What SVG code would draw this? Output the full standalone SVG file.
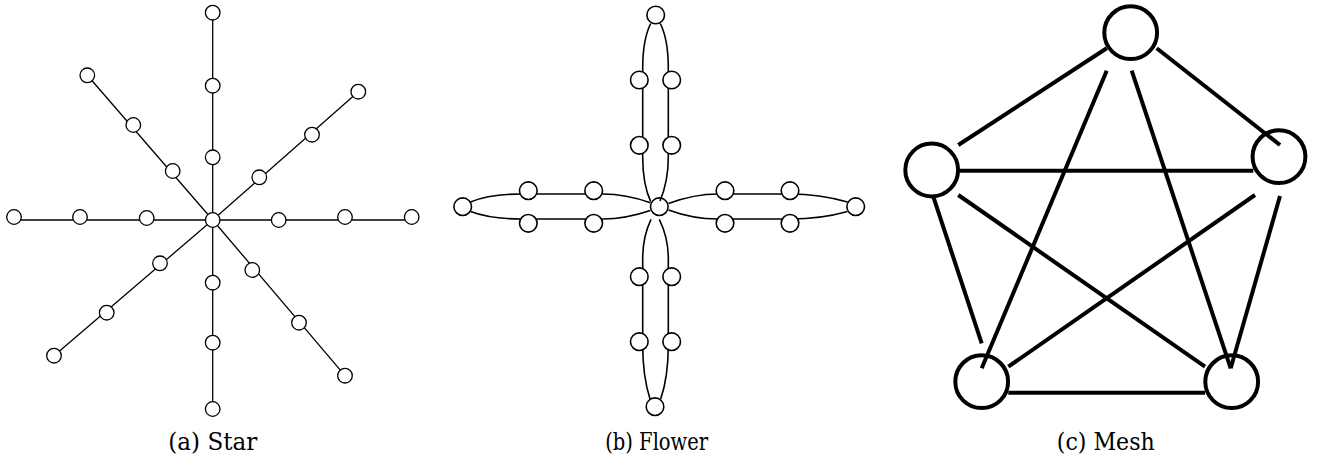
<svg xmlns="http://www.w3.org/2000/svg" width="1318" height="462" viewBox="0 0 1318 462">
<style>
.sl{stroke:#000;stroke-width:1.3;fill:none}
.sn{fill:#fff;stroke:#000;stroke-width:1.3}
.fl{stroke:#000;stroke-width:1.6;fill:none}
.fn{fill:#fff;stroke:#000;stroke-width:1.6}
.ml{stroke:#000;stroke-width:4;fill:none}
.mn{fill:none;stroke:#000;stroke-width:4}
.lbl{font-family:"DejaVu Serif","Liberation Serif",serif;font-size:25px;fill:#000}
</style>
<rect width="1318" height="462" fill="#fff"/>
<!-- Star -->
<g id="star-connectors">
<line class="sl" x1="212.7" y1="220" x2="212.7" y2="12.7"/>
<line class="sl" x1="212.7" y1="220" x2="212.7" y2="409"/>
<line class="sl" x1="14" y1="220" x2="411.7" y2="220"/>
<line class="sl" x1="212.7" y1="220" x2="87.3" y2="75.3"/>
<line class="sl" x1="212.7" y1="220" x2="358.3" y2="91.7"/>
<line class="sl" x1="212.7" y1="220" x2="54" y2="355.7"/>
<line class="sl" x1="212.7" y1="220" x2="345" y2="375.7"/>
</g>
<g id="star-nodes">
<circle id="s0" class="sn" cx="212.7" cy="220" r="7.3"/>
<circle id="s1" class="sn" cx="212.7" cy="12.7" r="7.3"/>
<circle id="s2" class="sn" cx="212.7" cy="85.7" r="7.3"/>
<circle id="s3" class="sn" cx="212.7" cy="157.3" r="7.3"/>
<circle id="s4" class="sn" cx="212.7" cy="282.7" r="7.3"/>
<circle id="s5" class="sn" cx="212.7" cy="342.7" r="7.3"/>
<circle id="s6" class="sn" cx="212.7" cy="409" r="7.3"/>
<circle id="s7" class="sn" cx="14" cy="217" r="7.3"/>
<circle id="s8" class="sn" cx="80" cy="217" r="7.3"/>
<circle id="s9" class="sn" cx="146.7" cy="218" r="7.3"/>
<circle id="s10" class="sn" cx="278.7" cy="220" r="7.3"/>
<circle id="s11" class="sn" cx="345" cy="217" r="7.3"/>
<circle id="s12" class="sn" cx="411.7" cy="217" r="7.3"/>
<circle id="s13" class="sn" cx="87.3" cy="75.3" r="7.3"/>
<circle id="s14" class="sn" cx="133.3" cy="125" r="7.3"/>
<circle id="s15" class="sn" cx="172.7" cy="171" r="7.3"/>
<circle id="s16" class="sn" cx="259.3" cy="177.3" r="7.3"/>
<circle id="s17" class="sn" cx="312" cy="134.7" r="7.3"/>
<circle id="s18" class="sn" cx="358.3" cy="91.7" r="7.3"/>
<circle id="s19" class="sn" cx="160" cy="263.3" r="7.3"/>
<circle id="s20" class="sn" cx="106.7" cy="312.7" r="7.3"/>
<circle id="s21" class="sn" cx="54" cy="355.7" r="7.3"/>
<circle id="s22" class="sn" cx="252.3" cy="270" r="7.3"/>
<circle id="s23" class="sn" cx="299" cy="322.7" r="7.3"/>
<circle id="s24" class="sn" cx="345" cy="375.7" r="7.3"/>
</g>
<text class="lbl" x="212.8" y="450" text-anchor="middle" textLength="89" lengthAdjust="spacingAndGlyphs">(a) Star</text>
<!-- Flower -->
<g id="flower-connectors">
<path class="fl" d="M650.7,201.7 C644.5,188 642.7,172 642.7,157 L642.7,68 C642.7,50 645.5,34 650.7,23.5"/>
<path class="fl" d="M660,201 C665.5,188 668.3,172 668.3,157 L668.3,68 C668.3,50 665.5,34 660.3,23.5"/>
<path class="fl" d="M651,219.3 C645,232 642.7,245 642.7,258 L642.7,345 C642.7,365 645.5,385 650,399"/>
<path class="fl" d="M659.3,219.3 C665.5,232 668.3,245 668.3,258 L668.3,345 C668.3,365 665.5,385 660.7,399"/>
<path class="fl" d="M470.5,202 C485,196 505,194 522,194 L603,194 C620,194 637,198 650.3,202.7"/>
<path class="fl" d="M470.5,211.5 C485,217 505,219 522,219 L603,219 C620,219 637,215 650.3,210.5"/>
<path class="fl" d="M668.5,203.5 C682,198.5 700,194 718,194 L790,194 C810,194 830,197 847.5,202"/>
<path class="fl" d="M668.5,210 C682,215 700,219 718,219 L790,219 C810,219 830,216.5 847.5,211.5"/>
</g>
<g id="flower-nodes">
<circle id="f0" cx="659.3" cy="206.7" r="8.8" fill="none" stroke="#000" stroke-width="1.6"/>
<circle id="f1" class="fn" cx="655.7" cy="15" r="8.8"/>
<circle id="f2" class="fn" cx="639.3" cy="80" r="8.8"/>
<circle id="f3" class="fn" cx="671.7" cy="80" r="8.8"/>
<circle id="f4" class="fn" cx="639.3" cy="145.3" r="8.8"/>
<circle id="f5" class="fn" cx="671.7" cy="145.3" r="8.8"/>
<circle id="f6" class="fn" cx="639.3" cy="276.7" r="8.8"/>
<circle id="f7" class="fn" cx="671.7" cy="276.7" r="8.8"/>
<circle id="f8" class="fn" cx="639.3" cy="341.7" r="8.8"/>
<circle id="f9" class="fn" cx="671.7" cy="341.7" r="8.8"/>
<circle id="f10" class="fn" cx="655" cy="406.7" r="8.8"/>
<circle id="f11" class="fn" cx="462.7" cy="206.7" r="8.8"/>
<circle id="f12" class="fn" cx="528.3" cy="190.7" r="8.8"/>
<circle id="f13" class="fn" cx="593.7" cy="190.7" r="8.8"/>
<circle id="f14" class="fn" cx="528.3" cy="223.3" r="8.8"/>
<circle id="f15" class="fn" cx="593.7" cy="223.3" r="8.8"/>
<circle id="f16" class="fn" cx="725" cy="190.7" r="8.8"/>
<circle id="f17" class="fn" cx="790" cy="190.7" r="8.8"/>
<circle id="f18" class="fn" cx="725" cy="223.3" r="8.8"/>
<circle id="f19" class="fn" cx="790" cy="223.3" r="8.8"/>
<circle id="f20" class="fn" cx="855.7" cy="206.7" r="8.8"/>
</g>
<text class="lbl" x="656.7" y="450" text-anchor="middle" textLength="103" lengthAdjust="spacingAndGlyphs">(b) Flower</text>
<!-- Mesh -->
<g id="mesh-connectors">
<line class="ml" x1="1106.7" y1="48.3" x2="958.3" y2="145"/>
<line class="ml" x1="1156.7" y1="48.3" x2="1280" y2="145"/>
<line class="ml" x1="960" y1="170.7" x2="1253.3" y2="170.7"/>
<line class="ml" x1="1106.7" y1="70.7" x2="981.7" y2="368.3"/>
<line class="ml" x1="1131.7" y1="70.7" x2="1230.7" y2="368.3"/>
<line class="ml" x1="933.3" y1="196.7" x2="981.7" y2="343.3"/>
<line class="ml" x1="958.3" y1="195" x2="1205" y2="366.7"/>
<line class="ml" x1="1255" y1="195" x2="1008.3" y2="366.7"/>
<line class="ml" x1="1280" y1="196" x2="1230.7" y2="368.3"/>
<line class="ml" x1="1008.3" y1="392.7" x2="1205" y2="392.7"/>
</g>
<g id="m1"><circle class="mn" cx="1130.7" cy="32.7" r="26.4"/></g>
<g id="m2"><circle class="mn" cx="931.7" cy="170" r="26.4"/></g>
<g id="m3"><circle class="mn" cx="1279" cy="156.7" r="26.4"/></g>
<g id="m4"><circle class="mn" cx="981.7" cy="381.7" r="26.4"/></g>
<g id="m5"><circle class="mn" cx="1231.7" cy="381.7" r="26.4"/></g>
<text class="lbl" x="1105.8" y="450" text-anchor="middle" textLength="98" lengthAdjust="spacingAndGlyphs">(c) Mesh</text>
</svg>
